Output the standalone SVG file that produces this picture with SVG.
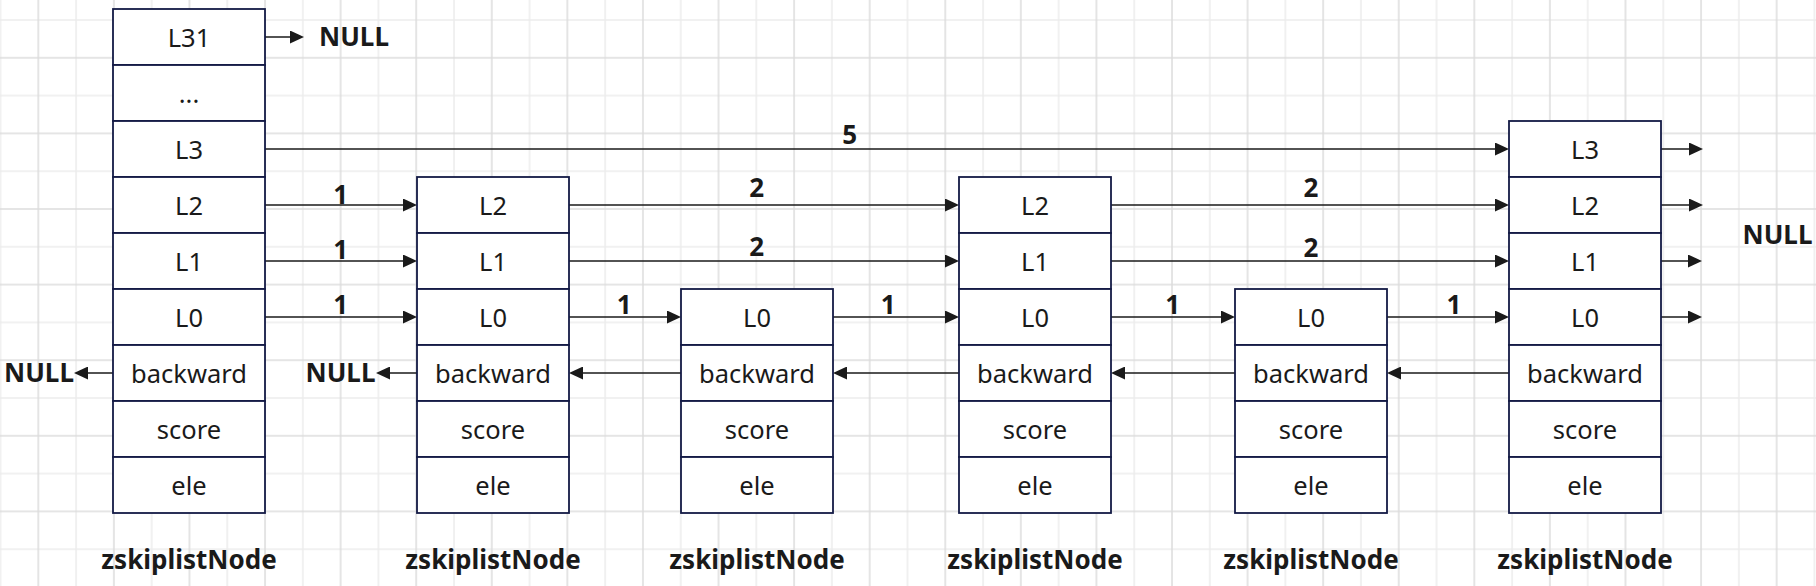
<svg xmlns="http://www.w3.org/2000/svg" width="1816" height="586" viewBox="0 0 1816 586">
<style>
.cell{fill:#ffffff;stroke:#131a45;stroke-width:1.8}
.t{font-family:"Noto Sans","Open Sans","DejaVu Sans",sans-serif;font-size:25.5px;fill:#1a1a1a;text-anchor:middle}
.b{font-family:"Noto Sans","Open Sans","DejaVu Sans",sans-serif;font-size:26px;font-weight:bold;fill:#1a1a1a;text-anchor:middle}
.c{fill:none;stroke:#1a1a1a;stroke-width:1.6;marker-end:url(#arr)}
</style>
<defs>
<pattern id="grid" x="19.4" y="1.1" width="75.58" height="75.6" patternUnits="userSpaceOnUse">
<path d="M56.69 0V75.6" stroke="#ececec" stroke-width="1.5"/>
<path d="M0 18.9H75.58" stroke="#ececec" stroke-width="1.5"/>
<path d="M18.9 0V75.6" stroke="#dcdcdc" stroke-width="1.5"/>
<path d="M0 56.7H75.58" stroke="#dcdcdc" stroke-width="1.5"/>
</pattern>
<marker id="arr" viewBox="0 0 14 13" refX="10" refY="6.5" markerWidth="14" markerHeight="13" markerUnits="userSpaceOnUse" orient="auto">
<path d="M0,0L14,6.5L0,13z" fill="#1a1a1a"/>
</marker>
</defs>
<rect width="1816" height="586" fill="#ffffff"/>
<rect width="1816" height="586" fill="url(#grid)"/>

<g id="connectors">
<path class="c" d="M265 37H300"/>
<path class="c" d="M265 149H1505"/>
<path class="c" d="M265 205H413"/>
<path class="c" d="M569 205H955"/>
<path class="c" d="M1111 205H1505"/>
<path class="c" d="M265 261H413"/>
<path class="c" d="M569 261H955"/>
<path class="c" d="M1111 261H1505"/>
<path class="c" d="M265 317H413"/>
<path class="c" d="M569 317H677"/>
<path class="c" d="M833 317H955"/>
<path class="c" d="M1111 317H1231"/>
<path class="c" d="M1387 317H1505"/>
<path class="c" d="M1661 149H1699"/>
<path class="c" d="M1661 205H1699"/>
<path class="c" d="M1661 261H1698"/>
<path class="c" d="M1661 317H1698"/>
<path class="c" d="M113 373H78"/>
<path class="c" d="M417 373H380"/>
<path class="c" d="M681 373H573"/>
<path class="c" d="M959 373H837"/>
<path class="c" d="M1235 373H1115"/>
<path class="c" d="M1509 373H1391"/>
<text class="b" x="340.6" y="203.5">1</text>
<text class="b" x="340.6" y="258.5">1</text>
<text class="b" x="340.6" y="313.7">1</text>
<text class="b" x="849.7" y="144">5</text>
<text class="b" x="756.7" y="197">2</text>
<text class="b" x="756.7" y="256">2</text>
<text class="b" x="624.3" y="314">1</text>
<text class="b" x="888.3" y="314">1</text>
<text class="b" x="1311" y="197">2</text>
<text class="b" x="1311" y="256.5">2</text>
<text class="b" x="1172.7" y="314">1</text>
<text class="b" x="1454" y="314">1</text>
<text class="b" x="354" y="46">NULL</text>
<text class="b" x="1777.5" y="244">NULL</text>
<text class="b" x="39" y="382">NULL</text>
<text class="b" x="340.5" y="382">NULL</text>
</g>

<g id="node-header">
<rect class="cell" x="113" y="9" width="152" height="56"/>
<rect class="cell" x="113" y="65" width="152" height="56"/>
<rect class="cell" x="113" y="121" width="152" height="56"/>
<rect class="cell" x="113" y="177" width="152" height="56"/>
<rect class="cell" x="113" y="233" width="152" height="56"/>
<rect class="cell" x="113" y="289" width="152" height="56"/>
<rect class="cell" x="113" y="345" width="152" height="56"/>
<rect class="cell" x="113" y="401" width="152" height="56"/>
<rect class="cell" x="113" y="457" width="152" height="56"/>
<text class="t" x="189" y="46.5">L31</text>
<text class="t" x="189" y="102.5">...</text>
<text class="t" x="189" y="158.5">L3</text>
<text class="t" x="189" y="214.5">L2</text>
<text class="t" x="189" y="270.5">L1</text>
<text class="t" x="189" y="326.5">L0</text>
<text class="t" x="189" y="382.5">backward</text>
<text class="t" x="189" y="438.5">score</text>
<text class="t" x="189" y="494.5">ele</text>
<text class="b" x="189" y="569">zskiplistNode</text>
</g>

<g id="node-1">
<rect class="cell" x="417" y="177" width="152" height="56"/>
<rect class="cell" x="417" y="233" width="152" height="56"/>
<rect class="cell" x="417" y="289" width="152" height="56"/>
<rect class="cell" x="417" y="345" width="152" height="56"/>
<rect class="cell" x="417" y="401" width="152" height="56"/>
<rect class="cell" x="417" y="457" width="152" height="56"/>
<text class="t" x="493" y="214.5">L2</text>
<text class="t" x="493" y="270.5">L1</text>
<text class="t" x="493" y="326.5">L0</text>
<text class="t" x="493" y="382.5">backward</text>
<text class="t" x="493" y="438.5">score</text>
<text class="t" x="493" y="494.5">ele</text>
<text class="b" x="493" y="569">zskiplistNode</text>
</g>

<g id="node-2">
<rect class="cell" x="681" y="289" width="152" height="56"/>
<rect class="cell" x="681" y="345" width="152" height="56"/>
<rect class="cell" x="681" y="401" width="152" height="56"/>
<rect class="cell" x="681" y="457" width="152" height="56"/>
<text class="t" x="757" y="326.5">L0</text>
<text class="t" x="757" y="382.5">backward</text>
<text class="t" x="757" y="438.5">score</text>
<text class="t" x="757" y="494.5">ele</text>
<text class="b" x="757" y="569">zskiplistNode</text>
</g>

<g id="node-3">
<rect class="cell" x="959" y="177" width="152" height="56"/>
<rect class="cell" x="959" y="233" width="152" height="56"/>
<rect class="cell" x="959" y="289" width="152" height="56"/>
<rect class="cell" x="959" y="345" width="152" height="56"/>
<rect class="cell" x="959" y="401" width="152" height="56"/>
<rect class="cell" x="959" y="457" width="152" height="56"/>
<text class="t" x="1035" y="214.5">L2</text>
<text class="t" x="1035" y="270.5">L1</text>
<text class="t" x="1035" y="326.5">L0</text>
<text class="t" x="1035" y="382.5">backward</text>
<text class="t" x="1035" y="438.5">score</text>
<text class="t" x="1035" y="494.5">ele</text>
<text class="b" x="1035" y="569">zskiplistNode</text>
</g>

<g id="node-4">
<rect class="cell" x="1235" y="289" width="152" height="56"/>
<rect class="cell" x="1235" y="345" width="152" height="56"/>
<rect class="cell" x="1235" y="401" width="152" height="56"/>
<rect class="cell" x="1235" y="457" width="152" height="56"/>
<text class="t" x="1311" y="326.5">L0</text>
<text class="t" x="1311" y="382.5">backward</text>
<text class="t" x="1311" y="438.5">score</text>
<text class="t" x="1311" y="494.5">ele</text>
<text class="b" x="1311" y="569">zskiplistNode</text>
</g>

<g id="node-5">
<rect class="cell" x="1509" y="121" width="152" height="56"/>
<rect class="cell" x="1509" y="177" width="152" height="56"/>
<rect class="cell" x="1509" y="233" width="152" height="56"/>
<rect class="cell" x="1509" y="289" width="152" height="56"/>
<rect class="cell" x="1509" y="345" width="152" height="56"/>
<rect class="cell" x="1509" y="401" width="152" height="56"/>
<rect class="cell" x="1509" y="457" width="152" height="56"/>
<text class="t" x="1585" y="158.5">L3</text>
<text class="t" x="1585" y="214.5">L2</text>
<text class="t" x="1585" y="270.5">L1</text>
<text class="t" x="1585" y="326.5">L0</text>
<text class="t" x="1585" y="382.5">backward</text>
<text class="t" x="1585" y="438.5">score</text>
<text class="t" x="1585" y="494.5">ele</text>
<text class="b" x="1585" y="569">zskiplistNode</text>
</g>
</svg>
